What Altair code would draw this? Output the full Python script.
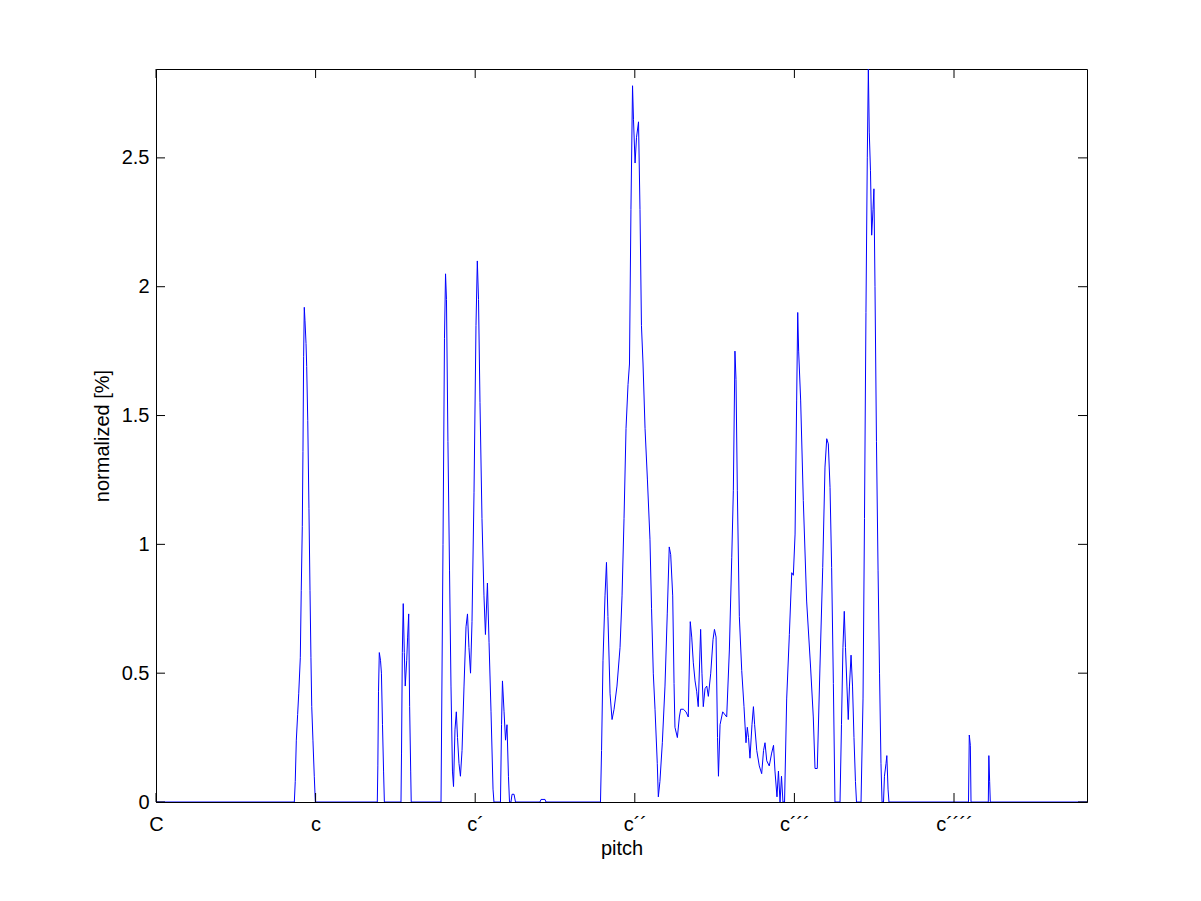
import altair as alt
import pandas as pd

# pitch in semitones above C, normalized value in %
pitch = [
    0.00, 10.40, 10.47, 10.55, 10.65, 10.73, 10.85, 10.92, 11.00, 11.05, 11.10, 11.15, 11.20, 11.28,
    11.33, 11.41, 11.50, 11.58, 11.65, 11.71, 11.80, 11.90, 11.98,
    16.64, 16.68, 16.73, 16.79, 16.88, 16.95, 17.03, 17.11, 17.17,
    18.42, 18.46, 18.52, 18.59, 18.67, 18.74, 18.85, 18.92, 19.00, 19.07, 19.15, 19.19,
    21.43, 21.58, 21.69, 21.77, 21.84, 21.95, 22.07, 22.18, 22.29, 22.37, 22.48, 22.58, 22.67,
    22.78, 22.89, 23.01, 23.16, 23.31, 23.42, 23.53, 23.65, 23.76, 23.91, 24.06, 24.16, 24.25,
    24.36, 24.51, 24.66, 24.77, 24.92, 25.04, 25.19, 25.34, 25.41,
    25.90, 25.98, 26.05, 26.17, 26.28, 26.39, 26.50, 26.58, 26.69, 26.77, 26.92, 27.03,
    28.87, 28.95, 29.25, 29.32,
    33.42, 33.50, 33.61, 33.76, 33.87, 33.98, 34.14, 34.29, 34.44, 34.66, 34.89, 35.04, 35.19,
    35.34, 35.49, 35.60, 35.71, 35.83, 35.90, 36.02, 36.13, 36.28, 36.39, 36.50, 36.62, 36.77,
    36.95, 37.14, 37.26, 37.39, 37.52, 37.69, 37.77, 37.89, 38.07, 38.27, 38.44, 38.59, 38.70,
    38.85, 38.95, 39.02, 39.20, 39.35, 39.45, 39.65, 39.85, 40.02, 40.17, 40.28, 40.40, 40.53,
    40.65, 40.77, 40.95, 41.05, 41.15, 41.28, 41.41, 41.53, 41.71, 41.88, 41.99, 42.11, 42.22,
    42.29, 42.41, 42.61, 42.91, 43.11, 43.29, 43.41, 43.53, 43.61, 43.71, 43.86, 44.04, 44.21,
    44.36, 44.46, 44.55, 44.66, 44.81, 44.92, 45.01, 45.17, 45.36, 45.54, 45.68, 45.79, 45.92,
    46.11, 46.29, 46.43, 46.54, 46.69, 46.80, 46.92, 47.03, 47.14, 47.26,
    47.42, 47.62, 47.80, 47.92, 48.05, 48.17, 48.25, 48.32, 48.47, 48.67, 48.92, 49.22, 49.42,
    49.55, 49.72, 49.92, 50.13, 50.30, 50.43, 50.55, 50.68, 50.80, 50.93, 51.05,
    51.43, 51.54, 51.65, 51.75, 51.84, 51.95, 52.05, 52.14, 52.26, 52.37, 52.48, 52.59, 52.67,
    53.01, 53.16, 53.27, 53.38, 53.48, 53.56, 53.63, 53.72, 53.81, 53.91, 53.98, 54.06, 54.17,
    54.29, 54.40, 54.51, 54.59,
    54.70, 54.77, 54.89, 54.95, 55.04, 55.11,
    61.09, 61.15, 61.23, 61.28,
    62.58, 62.62, 62.68, 62.73,
    70.00,
]
value = [
    0.00, 0.00, 0.08, 0.24, 0.34, 0.42, 0.56, 0.82, 1.07, 1.36, 1.73, 1.92, 1.87, 1.78,
    1.69, 1.48, 1.14, 0.82, 0.56, 0.37, 0.24, 0.10, 0.00,
    0.00, 0.14, 0.43, 0.58, 0.55, 0.50, 0.30, 0.12, 0.00,
    0.00, 0.19, 0.58, 0.77, 0.58, 0.45, 0.55, 0.64, 0.73, 0.37, 0.12, 0.00,
    0.00, 1.00, 1.80, 2.05, 1.95, 1.40, 0.90, 0.45, 0.12, 0.06, 0.28, 0.35, 0.25,
    0.15, 0.10, 0.20, 0.45, 0.68, 0.73, 0.60, 0.50, 0.70, 1.20, 1.85, 2.10, 1.95,
    1.55, 1.10, 0.80, 0.65, 0.85, 0.62, 0.35, 0.05, 0.00,
    0.00, 0.30, 0.47, 0.35, 0.24, 0.30, 0.10, 0.00, 0.00, 0.03, 0.03, 0.00,
    0.00, 0.01, 0.01, 0.00,
    0.00, 0.20, 0.55, 0.80, 0.93, 0.72, 0.42, 0.32, 0.36, 0.45, 0.60, 0.80, 1.10,
    1.45, 1.62, 1.70, 2.30, 2.78, 2.65, 2.48, 2.58, 2.64, 2.30, 1.85, 1.70, 1.45,
    1.25, 1.02, 0.75, 0.50, 0.36, 0.15, 0.02, 0.08, 0.23, 0.45, 0.73, 0.99, 0.96,
    0.80, 0.46, 0.29, 0.25, 0.33, 0.36, 0.36, 0.35, 0.33, 0.70, 0.64, 0.54, 0.47,
    0.43, 0.37, 0.67, 0.50, 0.37, 0.44, 0.45, 0.41, 0.50, 0.63, 0.67, 0.64, 0.25,
    0.10, 0.30, 0.35, 0.33, 0.59, 0.95, 1.21, 1.75, 1.64, 1.21, 0.72, 0.51, 0.37,
    0.23, 0.29, 0.25, 0.17, 0.30, 0.37, 0.30, 0.20, 0.14, 0.11, 0.20, 0.23, 0.16,
    0.14, 0.19, 0.22, 0.12, 0.02, 0.12, 0.00, 0.10, 0.00, 0.00,
    0.40, 0.65, 0.89, 0.88, 1.04, 1.56, 1.90, 1.75, 1.56, 1.17, 0.78, 0.52, 0.33,
    0.13, 0.13, 0.52, 0.91, 1.30, 1.41, 1.39, 1.22, 0.91, 0.46, 0.00,
    0.00, 0.30, 0.60, 0.74, 0.60, 0.45, 0.32, 0.45, 0.57, 0.45, 0.25, 0.08, 0.00,
    0.00, 0.40, 1.10, 1.90, 2.50, 2.845, 2.60, 2.45, 2.20, 2.30, 2.38, 2.00, 1.40,
    0.90, 0.50, 0.15, 0.00,
    0.00, 0.10, 0.15, 0.18, 0.05, 0.00,
    0.00, 0.26, 0.22, 0.00,
    0.00, 0.18, 0.08, 0.00,
    0.00,
]

x_tick_values = [0, 12, 24, 36, 48, 60]
x_tick_labels = ["C", "c", "c\u00b4", "c\u00b4\u00b4", "c\u00b4\u00b4\u00b4", "c\u00b4\u00b4\u00b4\u00b4"]
y_tick_values = [0, 0.5, 1, 1.5, 2, 2.5]
x_domain = [0, 70]
y_domain = [0, 2.845]

W, H = 931, 733
TICK = 9
FONT = "Liberation Sans"

df = pd.DataFrame({"pitch": pitch, "value": value})
xt = pd.DataFrame({"pitch": x_tick_values})
yt = pd.DataFrame({"value": y_tick_values})

xscale = alt.Scale(domain=x_domain, nice=False, zero=False)
yscale = alt.Scale(domain=y_domain, nice=False, zero=False)

label_expr = " : ".join(
    f"datum.value == {v} ? '{l}'" for v, l in zip(x_tick_values, x_tick_labels)
) + " : ''"

line = alt.Chart(df).mark_line(color="#0000ff", strokeWidth=1, clip=True).encode(
    x=alt.X(
        "pitch:Q",
        scale=xscale,
        axis=alt.Axis(
            values=x_tick_values,
            labelExpr=label_expr,
            title="pitch",
            labelFlush=False,
            labelPadding=12,
            titleY=52,
            titleBaseline="alphabetic",
        ),
    ),
    y=alt.Y(
        "value:Q",
        scale=yscale,
        axis=alt.Axis(
            values=y_tick_values,
            format="~g",
            title="normalized [%]",
            labelPadding=7,
            titleX=-48,
            titleY=H / 2,
            titleBaseline="alphabetic",
        ),
    ),
)

bottom_ticks = alt.Chart(xt).mark_rule(color="black", strokeWidth=1).encode(
    x=alt.X("pitch:Q", scale=xscale), y=alt.value(H), y2=alt.value(H - TICK)
)
top_ticks = alt.Chart(xt).mark_rule(color="black", strokeWidth=1).encode(
    x=alt.X("pitch:Q", scale=xscale), y=alt.value(0), y2=alt.value(TICK)
)
left_ticks = alt.Chart(yt).mark_rule(color="black", strokeWidth=1).encode(
    y=alt.Y("value:Q", scale=yscale), x=alt.value(0), x2=alt.value(TICK)
)
right_ticks = alt.Chart(yt).mark_rule(color="black", strokeWidth=1).encode(
    y=alt.Y("value:Q", scale=yscale), x=alt.value(W), x2=alt.value(W - TICK)
)

chart = (
    alt.layer(line, bottom_ticks, top_ticks, left_ticks, right_ticks)
    .properties(
        width=W,
        height=H,
        autosize=alt.AutoSizeParams(type="none"),
        padding={"left": 148, "top": 61, "right": 100, "bottom": 80},
        background="white",
    )
    .configure_view(stroke="black", strokeWidth=1)
    .configure_axis(
        labelFont=FONT,
        titleFont=FONT,
        labelFontSize=20,
        titleFontSize=20,
        labelColor="black",
        titleColor="black",
        titleFontWeight="normal",
        domainColor="black",
        domainWidth=1,
        grid=False,
        ticks=False,
        zindex=1,
    )
)

chart.save("out.html", embed_options={"renderer": "svg", "actions": False})
